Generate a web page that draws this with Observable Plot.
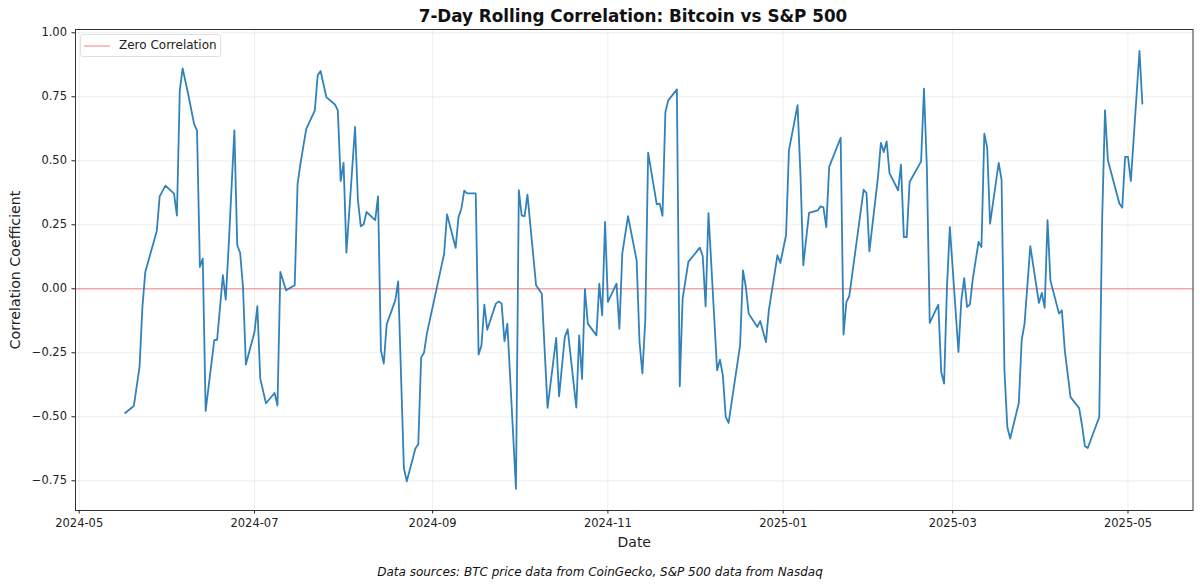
<!DOCTYPE html>
<html>
<head>
<meta charset="utf-8">
<script src="https://cdn.jsdelivr.net/npm/d3@7"></script>
<script src="https://cdn.jsdelivr.net/npm/@observablehq/plot@0.6"></script>
<style>
  html, body { margin: 0; padding: 0; background: #fff; }
  body { width: 1200px; height: 587px; position: relative; overflow: hidden; font-family: "DejaVu Sans", sans-serif; color: #111; }
  #title { height: 22px; line-height: 33px; padding-left: 66px; text-align: center; font-size: 16.8px; font-weight: bold; white-space: nowrap; }
  #chart svg { display: block; }
  #caption { position: absolute; left: 0; top: 564px; width: 1200px; text-align: center; font-size: 12px; font-style: italic; line-height: 16px; }
  #legend { position: absolute; left: 80px; top: 34px; width: 141px; height: 23px; box-sizing: border-box; background: rgba(255,255,255,.8); border: 1px solid #e0e0e0; border-radius: 3px; font-size: 12px; line-height: 21px; color: #222; }
  #legend i { position: absolute; left: 3px; top: 9.5px; width: 26px; height: 2px; background: #ffbcc2; }
  #legend span { position: absolute; left: 38px; top: 0; white-space: nowrap; }
</style>
</head>
<body>
<div id="title">7-Day Rolling Correlation: Bitcoin vs S&amp;P 500</div>
<div id="chart"></div>
<div id="legend"><i></i><span>Zero Correlation</span></div>
<div id="caption">Data sources: BTC price data from CoinGecko, S&amp;P 500 data from Nasdaq</div>
<script>
const startDay = "2024-05-01";
const dayOffsets = [16,19,21,22,23,27,28,30,33,34,35,36,38,40,41,42,43,44,47,48,50,51,52,54,55,56,57,58,61,62,63,65,68,69,70,72,75,76,77,79,82,83,84,86,89,90,91,92,93,96,97,98,99,100,103,104,105,106,107,110,111,113,114,117,118,119,120,121,127,128,131,132,133,134,135,138,139,140,141,142,145,146,147,148,149,152,153,154,155,156,159,161,163,166,167,169,170,173,174,175,176,177,180,181,182,183,184,187,188,189,191,194,195,196,197,198,201,202,203,204,205,208,209,210,212,216,217,218,219,222,223,224,225,226,230,231,232,233,236,237,239,240,243,244,246,247,250,251,252,254,257,258,259,260,261,265,266,267,268,273,274,275,278,279,280,281,282,285,286,287,288,289,293,294,295,296,299,300,301,302,303,306,307,308,309,310,311,313,314,315,316,317,320,321,322,323,324,327,328,329,331,334,335,336,337,338,341,342,343,345,348,349,350,351,355,356,357,358,362,363,364,365,366,369,370];
const correlation = [-0.485,-0.458,-0.305,-0.07,0.066,0.226,0.361,0.403,0.372,0.286,0.775,0.861,0.756,0.643,0.619,0.085,0.118,-0.477,-0.201,-0.199,0.053,-0.042,0.163,0.619,0.17,0.141,0.007,-0.296,-0.169,-0.068,-0.351,-0.447,-0.407,-0.456,0.066,-0.006,0.014,0.41,0.489,0.624,0.697,0.834,0.851,0.749,0.72,0.697,0.421,0.492,0.141,0.632,0.346,0.244,0.252,0.3,0.268,0.361,-0.24,-0.292,-0.139,-0.045,0.029,-0.702,-0.752,-0.624,-0.607,-0.269,-0.249,-0.175,0.137,0.291,0.16,0.28,0.313,0.383,0.373,0.373,-0.257,-0.221,-0.062,-0.16,-0.058,-0.049,-0.058,-0.205,-0.136,-0.781,0.385,0.286,0.284,0.368,0.014,-0.019,-0.465,-0.192,-0.42,-0.188,-0.158,-0.464,-0.182,-0.352,-0.001,-0.136,-0.182,0.02,-0.104,0.261,-0.051,0.02,-0.156,0.137,0.284,0.111,-0.208,-0.331,-0.123,0.532,0.33,0.333,0.285,0.69,0.736,0.779,-0.381,-0.038,0.105,0.161,0.128,-0.069,0.296,-0.318,-0.277,-0.338,-0.5,-0.524,-0.221,0.072,0.007,-0.097,-0.149,-0.126,-0.208,-0.084,0.131,0.101,0.209,0.541,0.717,0.45,0.092,0.297,0.306,0.322,0.318,0.241,0.476,0.59,-0.179,-0.051,-0.029,0.387,0.374,0.146,0.437,0.57,0.534,0.576,0.452,0.385,0.485,0.202,0.202,0.417,0.498,0.782,0.476,-0.133,-0.062,-0.325,-0.37,0.007,0.241,-0.247,-0.045,0.042,-0.071,-0.061,0.04,0.183,0.163,0.606,0.551,0.255,0.492,0.426,-0.318,-0.54,-0.585,-0.446,-0.201,-0.136,0.167,-0.055,-0.016,-0.074,0.268,0.033,-0.097,-0.084,-0.24,-0.423,-0.466,-0.533,-0.615,-0.622,-0.501,0.268,0.697,0.502,0.333,0.317,0.515,0.515,0.421,0.929,0.723];
const xTickDates = ["2024-05-01","2024-07-01","2024-09-01","2024-11-01","2025-01-01","2025-03-01","2025-05-01"].map(d => new Date(d));
const yTicks = [-0.75,-0.5,-0.25,0,0.25,0.5,0.75,1];
const xDomain = [new Date("2024-04-29T17:00:00Z"), new Date("2025-05-23T15:00:00Z")];
const yDomain = [-0.866, 1.0129];

const base = d3.utcDay.floor(new Date(startDay));
const rows = dayOffsets.map((d, i) => ({date: d3.utcDay.offset(base, d), value: correlation[i]}));
const ink = "#222";

const chart = Plot.plot({
  width: 1200, height: 530,
  marginTop: 7, marginBottom: 42, marginLeft: 75, marginRight: 7.5,
  style: {fontFamily: "'DejaVu Sans', sans-serif", background: "#fff", overflow: "visible"},
  x: {type: "utc", domain: xDomain, label: null},
  y: {domain: yDomain, label: null},
  marks: [
    Plot.ruleX(xTickDates, {stroke: "#b0b0b0", strokeOpacity: 0.25, strokeWidth: 0.8}),
    Plot.ruleY(yTicks, {stroke: "#b0b0b0", strokeOpacity: 0.25, strokeWidth: 0.8}),
    Plot.ruleY([0], {stroke: "#ff0000", strokeOpacity: 0.32, strokeWidth: 1.4}),
    Plot.line(rows, {x: "date", y: "value", stroke: "#1f77b4", strokeOpacity: 0.92, strokeWidth: 1.8}),
    Plot.frame({stroke: "#333", strokeWidth: 1}),
    Plot.axisX({ticks: xTickDates, tickFormat: d3.utcFormat("%Y-%m"), tickSize: 3.5, tickPadding: 5, fontSize: 11.5, color: ink, label: null}),
    Plot.axisY({ticks: yTicks, tickFormat: d3.format(".2f"), tickSize: 3.5, tickPadding: 5, fontSize: 11.5, color: ink, label: null}),
    Plot.text(["Date"], {frameAnchor: "bottom", dy: 36, fontSize: 14, fill: ink}),
    Plot.text(["Correlation Coefficient"], {frameAnchor: "left", textAnchor: "middle", rotate: -90, dx: -60, fontSize: 14.2, fill: ink})
  ]
});
document.getElementById("chart").appendChild(chart);
</script>
</body>
</html>
